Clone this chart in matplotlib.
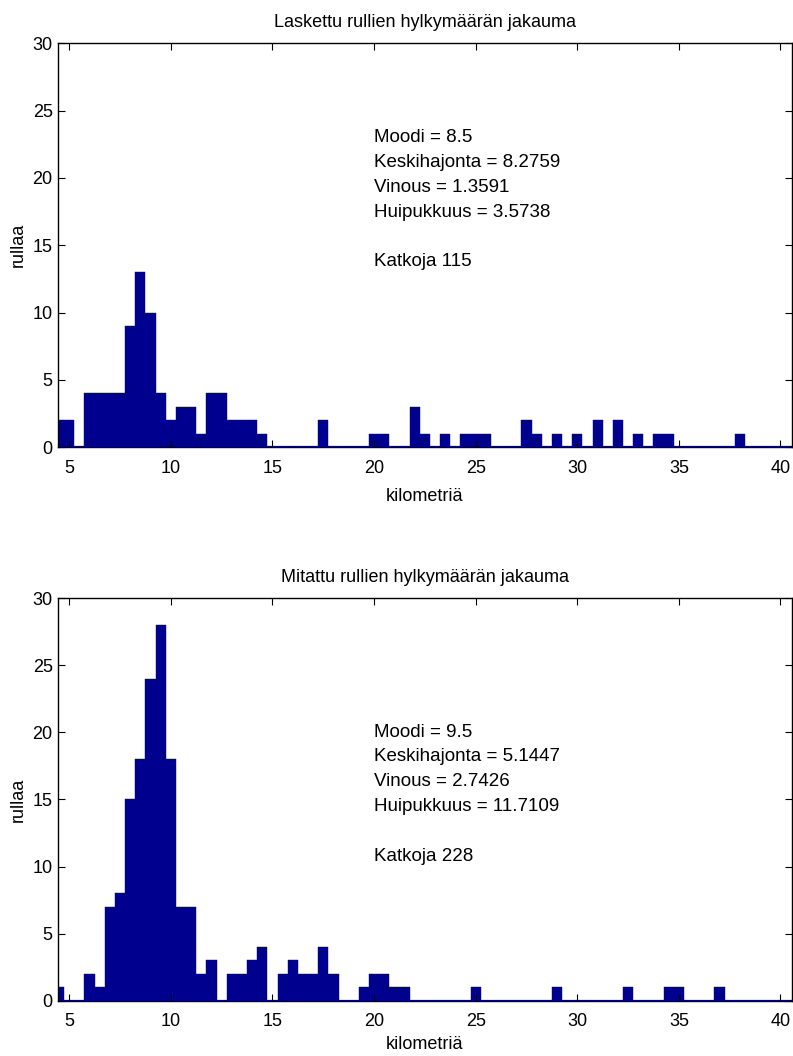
import numpy as np
import matplotlib
matplotlib.use("Agg")
import matplotlib.pyplot as plt

plt.rcParams['font.family'] = ['Liberation Sans', 'DejaVu Sans']

# bin centres (km) and counts of the non-empty bins, bin width 0.5 km
calc_km = [4.5, 5.0, 6.0, 6.5, 7.0, 7.5, 8.0, 8.5, 9.0, 9.5, 10.0, 10.5, 11.0, 11.5,
           12.0, 12.5, 13.0, 13.5, 14.0, 14.5, 17.5, 20.0, 20.5, 22.0, 22.5, 23.5,
           24.5, 25.0, 25.5, 27.5, 28.0, 29.0, 30.0, 31.0, 32.0, 33.0, 34.0, 34.5, 38.0]
calc_cnt = [2, 2, 4, 4, 4, 4, 9, 13, 10, 4, 2, 3, 3, 1,
            4, 4, 2, 2, 2, 1, 2, 1, 1, 3, 1, 1,
            1, 1, 1, 2, 1, 1, 1, 2, 2, 1, 1, 1, 1]

meas_km = [4.5, 6.0, 6.5, 7.0, 7.5, 8.0, 8.5, 9.0, 9.5, 10.0, 10.5, 11.0, 11.5, 12.0,
           13.0, 13.5, 14.0, 14.5, 15.5, 16.0, 16.5, 17.0, 17.5, 18.0, 19.5, 20.0,
           20.5, 21.0, 21.5, 25.0, 29.0, 32.5, 34.5, 35.0, 37.0]
meas_cnt = [1, 2, 1, 7, 8, 15, 18, 24, 28, 18, 7, 7, 2, 3,
            2, 2, 3, 4, 2, 3, 2, 2, 4, 2, 1, 2,
            2, 1, 1, 1, 1, 1, 1, 1, 1]

titles = ["Laskettu rullien hylkymäärän jakauma", "Mitattu rullien hylkymäärän jakauma"]
stats = [["Moodi = 8.5", "Keskihajonta = 8.2759", "Vinous = 1.3591",
          "Huipukkuus = 3.5738", "", "Katkoja 115"],
         ["Moodi = 9.5", "Keskihajonta = 5.1447", "Vinous = 2.7426",
          "Huipukkuus = 11.7109", "", "Katkoja 228"]]
xticks = [5, 10, 15, 20, 25, 30, 35, 40]
yticks = [0, 5, 10, 15, 20, 25, 30]

navy = '#00008f'
fs = 13

fig = plt.figure(figsize=(7.93, 10.56), dpi=100)
axs = [fig.add_axes([0.0735, 0.5764, 0.9248, 0.3826]),
       fig.add_axes([0.0735, 0.0524, 0.9248, 0.3811])]
text_y = [23.6, 20.65]
xlab_pad = [8, 4]

for ax, km, cnt, ttl, st, ty, lp in zip(axs, [calc_km, meas_km], [calc_cnt, meas_cnt],
                                         titles, stats, text_y, xlab_pad):
    ax.bar(km, cnt, width=0.5, color=navy, edgecolor=navy, linewidth=0.3)
    ax.axhline(0, color=navy, lw=1.6, zorder=1.5)
    ax.set_xlim(4.46, 40.55)
    ax.set_ylim(0, 30)
    ax.set_xticks(xticks)
    ax.set_yticks(yticks)
    ax.tick_params(direction='in', top=True, right=True, length=5, width=0.8,
                   labelsize=fs)
    ax.tick_params(axis='x', pad=9)
    ax.tick_params(axis='y', pad=4)
    for sp in ax.spines.values():
        sp.set_linewidth(1.0)
    ax.set_title(ttl, fontsize=fs, pad=12)
    ax.set_xlabel("kilometriä", fontsize=fs, labelpad=lp)
    ax.set_ylabel("rullaa", fontsize=fs, labelpad=4)
    ax.text(20, ty, "\n".join(st), fontsize=fs + 0.5, va='top', ha='left',
            linespacing=1.6)

fig.savefig("out.png", dpi=100)
